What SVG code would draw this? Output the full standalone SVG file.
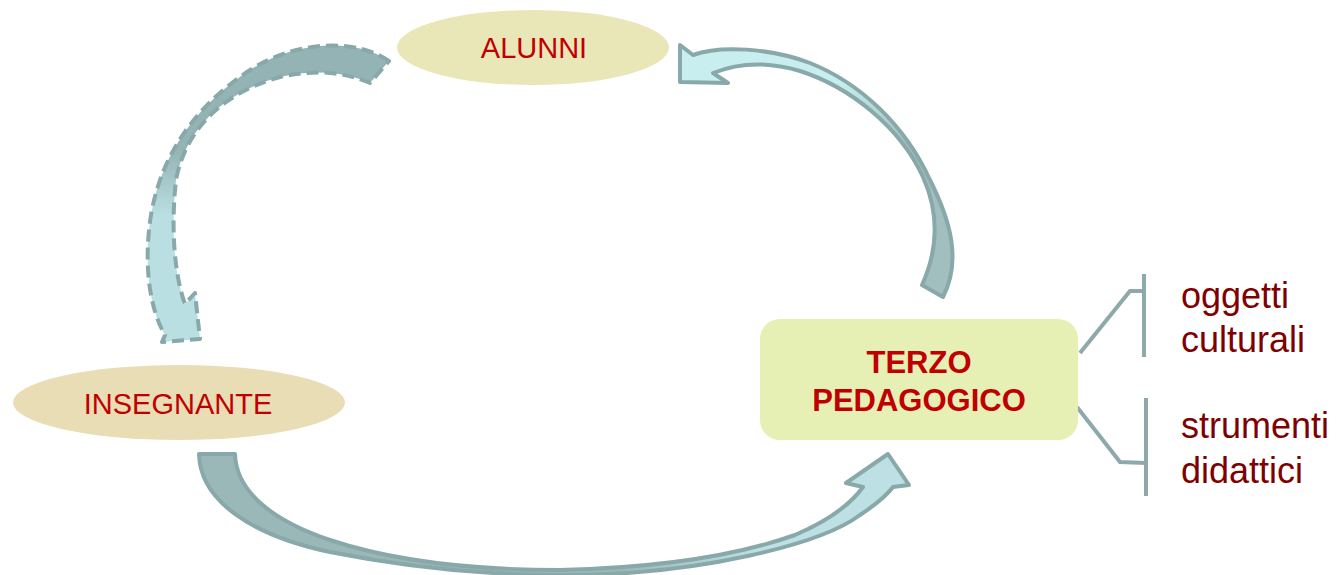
<svg xmlns="http://www.w3.org/2000/svg" width="1341" height="575" viewBox="0 0 1341 575">
<style>
.lbl{font-family:"Liberation Sans",Arial,sans-serif;fill:#c00000;text-anchor:middle}
.side{font-family:"Liberation Sans",Arial,sans-serif;fill:#800000;font-size:36px}
.arrow{stroke:#89a8a9;stroke-width:4;stroke-linejoin:round}
.brk{fill:none;stroke:#8ea9aa;stroke-width:4}
</style>
<defs>
<linearGradient id="gDash" gradientUnits="userSpaceOnUse" x1="0" y1="150" x2="0" y2="215">
<stop offset="0" stop-color="#94b3b4"/><stop offset="1" stop-color="#b9dfe2"/>
</linearGradient>
<linearGradient id="gRight" gradientUnits="userSpaceOnUse" x1="840" y1="80" x2="900" y2="150">
<stop offset="0" stop-color="#c8eef0"/><stop offset="1" stop-color="#a2bfbf"/>
</linearGradient>
<linearGradient id="gBottom" gradientUnits="userSpaceOnUse" x1="620" y1="0" x2="760" y2="0">
<stop offset="0" stop-color="#9ab8b8"/><stop offset="1" stop-color="#bce0e3"/>
</linearGradient>
</defs>
<rect width="1341" height="575" fill="#ffffff"/>
<g id="connectors">
<path class="arrow" fill="url(#gDash)" stroke="#86a4a5" stroke-width="5" stroke-dasharray="12 6" d="M 389,61 C 360,40 300,38 250,70 C 200,103 162,150 151,215 C 143,265 150,310 165,335 L 162,342 L 200,339 L 195,293 L 185,304 C 176,280 170,235 176,180 C 187,122 232,90 280,77 C 315,69 345,72 370,83 Z"/>
<path class="arrow" fill="url(#gRight)" stroke-width="3" d="M 680,45 L 693,55 C 720,45 770,48 810,63 C 860,83 905,125 930,180 C 950,220 962,260 943,297 L 922,285 C 938,250 940,215 923,177 C 900,127 850,87 800,71 C 770,62 740,62 713,73 L 728,83 L 680,82 Z"/>
<path class="arrow" fill="url(#gBottom)" d="M 199,454 C 200,500 250,535 330,552 C 420,570 500,576 580,575 C 700,573 820,545 860,515 C 875,505 887,495 893,487 L 909,485 L 888,454 L 846,483 L 863,487 C 850,505 830,520 795,535 C 730,558 650,568 560,570 C 470,570 390,560 330,540 C 270,520 236,490 235,454 Z"/>
<polyline class="brk" points="1080,353 1130,291 1144,291"/>
<line class="brk" x1="1144" y1="274" x2="1144" y2="357"/>
<polyline class="brk" points="1077,407 1120,462 1146,463"/>
<line class="brk" x1="1146" y1="398" x2="1146" y2="496"/>
</g>
<g id="alunni">
<ellipse cx="533" cy="47.5" rx="136" ry="37.5" fill="#e9e6b8"/>
<text class="lbl" x="534" y="58" font-size="29">ALUNNI</text>
</g>
<g id="insegnante">
<ellipse cx="179" cy="402.5" rx="166" ry="37.5" fill="#e8ddb4"/>
<text class="lbl" x="178" y="414" font-size="29">INSEGNANTE</text>
</g>
<g id="terzo">
<rect x="760" y="319" width="318" height="121" rx="20" fill="#e6efb4"/>
<text class="lbl" x="919" y="373" font-size="31" font-weight="bold">TERZO</text>
<text class="lbl" x="919" y="411" font-size="31" font-weight="bold">PEDAGOGICO</text>
</g>
<g id="oggetti">
<text class="side" x="1181" y="308">oggetti</text>
<text class="side" x="1181" y="352">culturali</text>
</g>
<g id="strumenti">
<text class="side" x="1181" y="438">strumenti</text>
<text class="side" x="1181" y="483">didattici</text>
</g>
</svg>
